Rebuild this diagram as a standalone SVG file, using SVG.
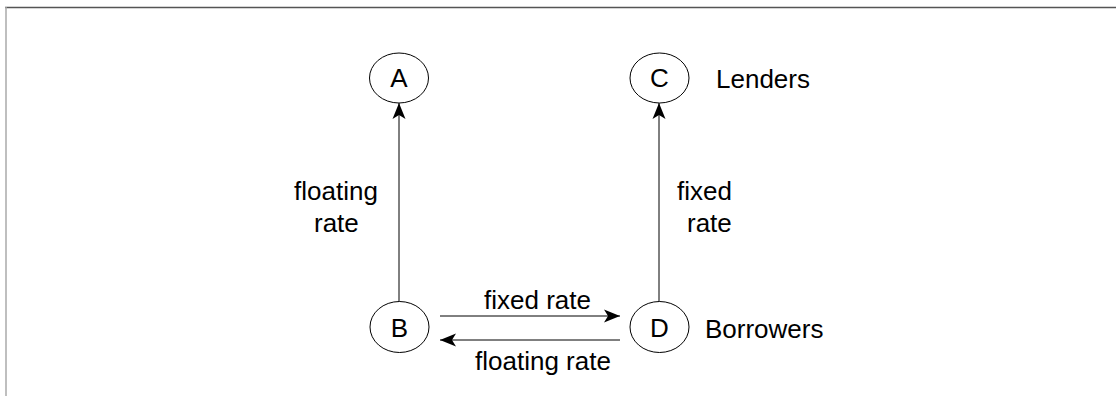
<svg xmlns="http://www.w3.org/2000/svg" width="1116" height="396" viewBox="0 0 1116 396">
<style>
.n{fill:#fff;stroke:#000;stroke-width:1}
.t{font-family:"Liberation Sans",Arial,sans-serif;font-size:26px;fill:#000}
.c{stroke:#000;stroke-width:1;fill:none}
</style>
<defs>
<marker id="ah" markerUnits="userSpaceOnUse" markerWidth="17" markerHeight="14" refX="16" refY="7" orient="auto">
<path d="M0,0.5 L16,7 L0,13.5 L4,7 z" fill="#000"/>
</marker>
</defs>
<rect width="1116" height="396" fill="#fff"/>
<line x1="5" y1="7.5" x2="1116" y2="7.5" stroke="#555" stroke-width="1.5"/>
<line x1="6" y1="7" x2="6" y2="396" stroke="#aaa" stroke-width="1.5"/>
<g id="connectors">
<line class="c" x1="399" y1="302" x2="399" y2="103" marker-end="url(#ah)"/>
<line class="c" x1="659" y1="302" x2="659" y2="103" marker-end="url(#ah)"/>
<line class="c" x1="440" y1="316" x2="620" y2="316" marker-end="url(#ah)"/>
<line class="c" x1="620" y1="340" x2="440" y2="340" marker-end="url(#ah)"/>
<text class="t" x="294" y="200">floating</text>
<text class="t" x="314" y="232">rate</text>
<text class="t" x="677" y="200">fixed</text>
<text class="t" x="687" y="232">rate</text>
<text class="t" x="484" y="309">fixed rate</text>
<text class="t" x="475" y="370">floating rate</text>
</g>
<g id="A"><ellipse class="n" cx="399" cy="78" rx="29.5" ry="25"/><text class="t" x="399" y="87" text-anchor="middle">A</text></g>
<g id="C"><ellipse class="n" cx="659.5" cy="78" rx="29.5" ry="25"/><text class="t" x="659.5" y="87" text-anchor="middle">C</text></g>
<g id="B"><ellipse class="n" cx="399.5" cy="327" rx="29.5" ry="25.5"/><text class="t" x="399.5" y="337" text-anchor="middle">B</text></g>
<g id="D"><ellipse class="n" cx="659.5" cy="327" rx="29.5" ry="25.5"/><text class="t" x="659.5" y="337" text-anchor="middle">D</text></g>
<g id="lenders"><text class="t" x="716" y="88">Lenders</text></g>
<g id="borrowers"><text class="t" x="705" y="338">Borrowers</text></g>
</svg>
